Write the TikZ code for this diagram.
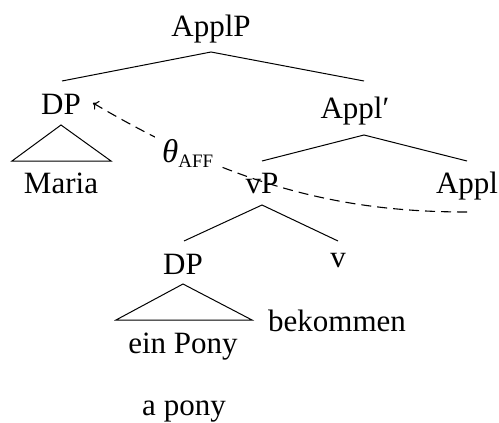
\documentclass[tikz,border=0pt]{standalone}
\usepackage{fontspec}
\setmainfont{Liberation Serif}
\usetikzlibrary{arrows.meta}
\begin{document}
\begin{tikzpicture}[x=1pt,y=-1pt,
  every node/.style={font=\fontsize{31}{34}\selectfont, inner sep=0pt},
  lbl/.style={anchor=base},
  branch/.style={line width=1pt},
  move/.style={line width=1.1pt, dash pattern=on 10pt off 6pt, -{To[length=5pt,width=10pt]}}]
\useasboundingbox (0,0) rectangle (499,423);
% labels of the tree
\node[lbl] (applp) at (211,36) {ApplP};
\node[lbl] (dp1) at (61,114) {DP};
\node[lbl] (maria) at (61,193) {Maria};
\node[lbl] (applbar) at (355,118) {Appl′};
\node[lbl] (vp) at (262,193) {vP};
\node[lbl] (appl) at (467,193) {Appl};
\node[lbl] (dp2) at (183,274) {DP};
\node[lbl] (v) at (338,267) {v};
\node[lbl] (einpony) at (183,353) {ein Pony};
\node[lbl,anchor=base west] (bekommen) at (268,331) {bekommen};
\node[lbl] (apony) at (184,415) {a pony};
% branch points
\coordinate (applp-b) at (211,52);
\coordinate (dp1-t) at (62,81);
\coordinate (applbar-t) at (364,81);
\coordinate (dp1-b) at (61,125);
\coordinate (dp1-l) at (12,161);
\coordinate (dp1-r) at (111,161);
\coordinate (applbar-b) at (364,135);
\coordinate (vp-t) at (262,161);
\coordinate (appl-t) at (467,161);
\coordinate (vp-b) at (262,205);
\coordinate (dp2-t) at (184,241);
\coordinate (v-t) at (338,241);
\coordinate (dp2-b) at (183,284);
\coordinate (dp2-l) at (116,320);
\coordinate (dp2-r) at (252,320);
% branches
\draw[branch] (dp1-t) -- (applp-b) -- (applbar-t);
\draw[branch] (dp1-b) -- (dp1-l) -- (dp1-r) -- cycle;
\draw[branch] (vp-t) -- (applbar-b) -- (appl-t);
\draw[branch] (dp2-t) -- (vp-b) -- (v-t);
\draw[branch] (dp2-b) -- (dp2-l) -- (dp2-r) -- cycle;
% theta-role assignment
\coordinate (appl-b) at (467,212);
\coordinate (dp1-e) at (93,103);
\draw[move] (appl-b) .. controls (350,212) and (240,190) .. (dp1-e);
\node[fill=white, inner sep=7pt, anchor=base west] (theta) at (155,162)
  {\fontsize{33}{34}\selectfont\textit{θ}\raisebox{-5pt}{\fontsize{19}{20}\selectfont AFF}};
\end{tikzpicture}
\end{document}
